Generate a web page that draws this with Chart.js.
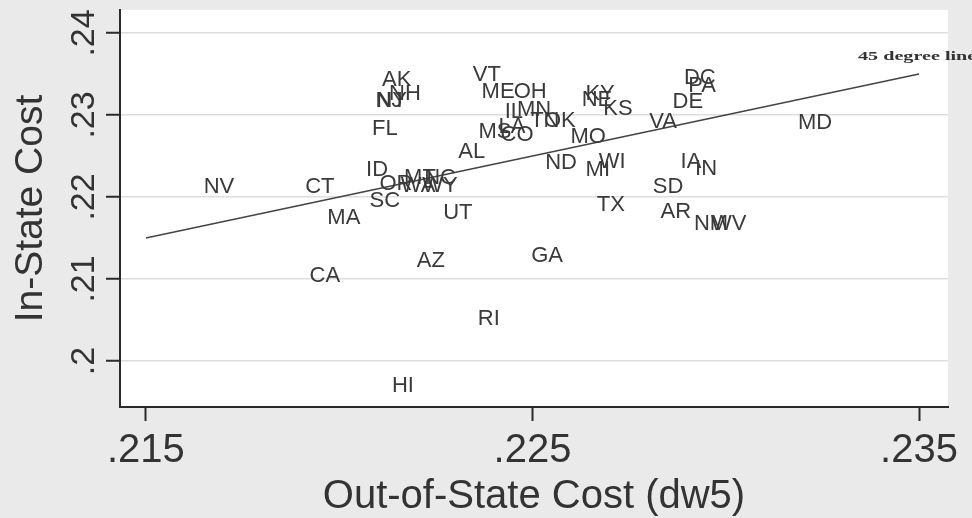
<!DOCTYPE html>
<html>
<head>
<meta charset="utf-8">
<script src="https://cdn.jsdelivr.net/npm/chart.js@4.4.1/dist/chart.umd.min.js"></script>
<style>
  html, body { margin: 0; padding: 0; background: #eaeaea; }
  canvas { display: block; }
</style>
</head>
<body>
<canvas id="chart" width="972" height="518"></canvas>
<script>
// state labels and their (out-of-state, in-state) costs
const states = ["AL", "AK", "AZ", "AR", "CA", "CO", "CT", "DE", "DC", "FL",
  "GA", "HI", "ID", "IL", "IN", "IA", "KS", "KY", "LA", "ME",
  "MD", "MA", "MI", "MN", "MS", "MO", "MT", "NE", "NV", "NH",
  "NJ", "NM", "NY", "NC", "ND", "OH", "OK", "OR", "PA", "RI",
  "SC", "SD", "TN", "TX", "UT", "VT", "VA", "WA", "WV", "WI", "WY"];

const outStateCost = [0.22343, 0.22149, 0.22237, 0.22871, 0.21963, 0.22460, 0.21950, 0.22902, 0.22933, 0.22118,
  0.22538, 0.22165, 0.22098, 0.22452, 0.22949, 0.22910, 0.22721, 0.22675, 0.22447, 0.22411,
  0.23231, 0.22012, 0.22669, 0.22504, 0.22403, 0.22644, 0.22209, 0.22667, 0.21689, 0.22170,
  0.22129, 0.22962, 0.22136, 0.22261, 0.22574, 0.22494, 0.22571, 0.22147, 0.22939, 0.22387,
  0.22118, 0.22851, 0.22532, 0.22703, 0.22307, 0.22382, 0.22838, 0.22204, 0.23008, 0.22706, 0.22261];

const inStateCost = [0.22549, 0.23427, 0.21220, 0.21817, 0.21037, 0.22756, 0.22122, 0.23159, 0.23451, 0.22829,
  0.21280, 0.19695, 0.22329, 0.23037, 0.22341, 0.22427, 0.23073, 0.23256, 0.22854, 0.23280,
  0.22902, 0.21744, 0.22329, 0.23061, 0.22793, 0.22732, 0.22232, 0.23183, 0.22122, 0.23256,
  0.23171, 0.21671, 0.23171, 0.22232, 0.22415, 0.23280, 0.22927, 0.22159, 0.23354, 0.20512,
  0.21951, 0.22122, 0.22927, 0.21902, 0.21805, 0.23488, 0.22915, 0.22134, 0.21671, 0.22427, 0.22134];

const xTicks = [0.215, 0.225, 0.235];
const xTickLabels = [".215", ".225", ".235"];
const yTicks = [0.20, 0.21, 0.22, 0.23, 0.24];
const yTickLabels = [".2", ".21", ".22", ".23", ".24"];
const lineEnds = [0.215, 0.235];

const puntos = states.map((s, i) => ({ x: outStateCost[i], y: inStateCost[i] }));
const linea45 = lineEnds.map((v) => ({ x: v, y: v }));

const fondoPlugin = {
  id: "fondo",
  beforeDraw(chart) {
    const { ctx, chartArea } = chart;
    ctx.save();
    ctx.fillStyle = "#eaeaea";
    ctx.fillRect(0, 0, chart.width, chart.height);
    ctx.fillStyle = "#ffffff";
    ctx.fillRect(chartArea.left, chartArea.top, chartArea.right - chartArea.left, chartArea.bottom - chartArea.top);
    ctx.restore();
  }
};

const etiquetasPlugin = {
  id: "etiquetas",
  afterDatasetsDraw(chart) {
    const { ctx } = chart;
    const meta = chart.getDatasetMeta(1);
    ctx.save();
    ctx.font = '22px "Liberation Sans", Arial, sans-serif';
    ctx.fillStyle = "#3a3a3a";
    ctx.textAlign = "center";
    ctx.textBaseline = "middle";
    meta.data.forEach((pt, i) => {
      ctx.fillText(states[i], pt.x, pt.y);
    });

    // 45 degree line label near its upper end
    const lineMeta = chart.getDatasetMeta(0);
    const fin = lineMeta.data[lineMeta.data.length - 1];
    ctx.translate(fin.x - 61, fin.y - 17);
    ctx.scale(1.55, 1);
    ctx.font = 'bold 13px "Liberation Serif", "DejaVu Serif", serif';
    ctx.fillStyle = "#333333";
    ctx.textAlign = "left";
    ctx.fillText("45 degree line", 0, 0);
    ctx.restore();
  },
  afterDraw(chart) {
    const { ctx } = chart;
    const y = chart.scales.y;
    ctx.save();
    ctx.font = '34px "Liberation Sans", Arial, sans-serif';
    ctx.fillStyle = "#333333";
    ctx.textAlign = "center";
    ctx.textBaseline = "middle";
    yTicks.forEach((v, i) => {
      ctx.save();
      ctx.translate(85, y.getPixelForValue(v));
      ctx.rotate(-Math.PI / 2);
      ctx.fillText(yTickLabels[i], 0, 0);
      ctx.restore();
    });
    ctx.restore();
  }
};

new Chart(document.getElementById("chart"), {
  type: "scatter",
  data: {
    datasets: [
      {
        type: "line",
        label: "45 degree line",
        data: linea45,
        borderColor: "#444444",
        borderWidth: 1.5,
        pointRadius: 0,
        fill: false
      },
      {
        label: "States",
        data: puntos,
        pointRadius: 0,
        pointHoverRadius: 0
      }
    ]
  },
  plugins: [fondoPlugin, etiquetasPlugin],
  options: {
    responsive: false,
    animation: false,
    devicePixelRatio: 1,
    layout: {
      padding: { top: 10, right: 24, left: 0, bottom: 0 }
    },
    plugins: {
      legend: { display: false },
      tooltip: { enabled: false }
    },
    scales: {
      x: {
        type: "linear",
        min: 0.21433,
        max: 0.23575,
        afterBuildTicks: (scale) => {
          scale.ticks = xTicks.map((v) => ({ value: v }));
        },
        afterFit: (scale) => {
          scale.height = 111;
        },
        border: { display: true, color: "#2a2a2a", width: 2 },
        grid: {
          drawOnChartArea: false,
          drawTicks: true,
          tickLength: 14,
          tickColor: "#2a2a2a",
          tickWidth: 2
        },
        ticks: {
          padding: 10,
          maxRotation: 0,
          color: "#333333",
          font: { family: '"Liberation Sans", Arial, sans-serif', size: 40, lineHeight: 1 },
          callback: (value) => {
            const i = xTicks.findIndex((t) => Math.abs(t - value) < 1e-9);
            return i >= 0 ? xTickLabels[i] : "";
          }
        },
        title: {
          display: true,
          text: "Out-of-State Cost (dw5)",
          color: "#333333",
          padding: { top: 0, bottom: 1 },
          font: { family: '"Liberation Sans", Arial, sans-serif', size: 40, lineHeight: 1 }
        }
      },
      y: {
        type: "linear",
        min: 0.19439,
        max: 0.2428,
        afterBuildTicks: (scale) => {
          scale.ticks = yTicks.map((v) => ({ value: v }));
        },
        afterFit: (scale) => {
          scale.width = 120;
        },
        border: { display: true, color: "#2a2a2a", width: 2 },
        grid: {
          color: "#dedede",
          lineWidth: 1.5,
          drawTicks: true,
          tickLength: 14,
          tickColor: "#2a2a2a",
          tickWidth: 2
        },
        ticks: {
          display: false
        },
        title: {
          display: true,
          text: "In-State Cost",
          color: "#333333",
          padding: { top: 12, bottom: 0 },
          font: { family: '"Liberation Sans", Arial, sans-serif', size: 39, lineHeight: 1 }
        }
      }
    }
  }
});
</script>
</body>
</html>
